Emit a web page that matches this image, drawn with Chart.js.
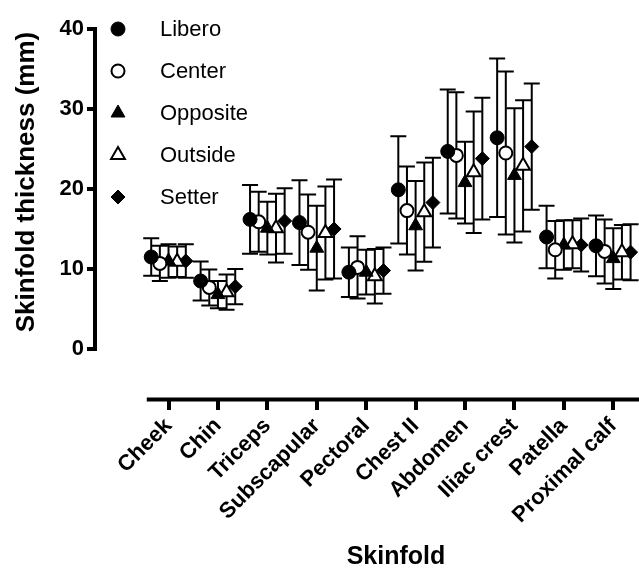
<!DOCTYPE html>
<html lang="en">
<head>
<meta charset="UTF-8">
<title>Skinfold thickness by playing position</title>
<script src="https://cdn.jsdelivr.net/npm/chart.js"></script>
<style>
  html, body { margin: 0; padding: 0; background: #fff; overflow: hidden; }
  #wrap { width: 639px; height: 570px; }
</style>
</head>
<body>
<div id="wrap">
  <canvas id="SkinfoldChart" width="639" height="570"></canvas>
</div>
<script>
// categories and tick labels
const categories = ['Cheek', 'Chin', 'Triceps', 'Subscapular', 'Pectoral', 'Chest II', 'Abdomen', 'Iliac crest', 'Patella', 'Proximal calf'];
const yTicks = [0, 10, 20, 30, 40];

// mean skinfold thickness (mm) per position
const liberoMean   = [11.5, 8.5, 16.2, 15.8, 9.6, 19.9, 24.7, 26.4, 14.0, 12.9];
const centerMean   = [10.7, 7.7, 15.9, 14.6, 10.2, 17.3, 24.2, 24.5, 12.4, 12.2];
const oppositeMean = [11.0, 6.8, 15.1, 12.6, 9.6, 15.4, 20.8, 21.7, 13.0, 11.3];
const outsideMean  = [10.9, 7.1, 15.1, 14.5, 9.1, 17.1, 22.1, 22.9, 13.1, 12.1];
const setterMean   = [11.0, 7.8, 16.0, 15.0, 9.8, 18.3, 23.8, 25.3, 13.0, 12.1];

// standard deviations (error bars)
const liberoSD   = [2.35, 2.45, 4.3, 5.3, 3.1, 6.7, 7.75, 9.9, 3.9, 3.8];
const centerSD   = [2.2, 2.25, 3.75, 4.7, 3.9, 5.5, 7.9, 10.2, 3.6, 4.0];
const oppositeSD = [2.1, 1.7, 3.3, 5.3, 2.8, 5.6, 5.1, 8.4, 3.1, 3.8];
const outsideSD  = [1.9, 2.2, 4.3, 5.8, 3.4, 6.2, 7.6, 8.2, 3.0, 3.4];
const setterSD   = [2.1, 2.2, 4.1, 6.2, 2.9, 5.6, 7.6, 7.9, 3.3, 3.5];

const FONT = "'Liberation Sans', Arial, Helvetica, sans-serif";
Chart.defaults.font.family = FONT;
Chart.defaults.color = '#000';

// horizontal spread of the five positions around each category
function makePoints(means, shift) {
    return means.map((m, i) => ({ x: i + shift, y: m }));
}

function series(label, means, sd, shift, style, filled, radius) {
    return {
        label: label,
        data: makePoints(means, shift),
        sd: sd,
        pointStyle: style,
        pointRadius: radius,
        pointBackgroundColor: filled ? '#000' : '#fff',
        pointBorderColor: '#000',
        pointBorderWidth: filled ? 1 : 2,
        showLine: false,
        clip: false
    };
}

const datasets = [
    series('Libero',   liberoMean,   liberoSD,   -0.35,  'circle',   true,  7),
    series('Center',   centerMean,   centerSD,   -0.175, 'circle',   false, 6.5),
    series('Opposite', oppositeMean, oppositeSD,  0,     'triangle', true,  8),
    series('Outside',  outsideMean,  outsideSD,   0.175, 'triangle', false, 8),
    series('Setter',   setterMean,   setterSD,    0.35,  'rectRot',  true,  7)
];

// error bars behind the symbols
const errorBars = {
    id: 'errorBars',
    beforeDatasetsDraw(chart) {
        const ctx = chart.ctx;
        const y = chart.scales.y;
        ctx.save();
        ctx.strokeStyle = '#000';
        ctx.lineWidth = 2;
        chart.data.datasets.forEach((ds, i) => {
            const meta = chart.getDatasetMeta(i);
            meta.data.forEach((pt, j) => {
                const top = y.getPixelForValue(ds.data[j].y + ds.sd[j]);
                const bot = y.getPixelForValue(ds.data[j].y - ds.sd[j]);
                ctx.beginPath();
                ctx.moveTo(pt.x, top);
                ctx.lineTo(pt.x, bot);
                ctx.moveTo(pt.x - 8, top);
                ctx.lineTo(pt.x + 8, top);
                ctx.moveTo(pt.x - 8, bot);
                ctx.lineTo(pt.x + 8, bot);
                ctx.stroke();
            });
        });
        ctx.restore();
    }
};

// Prism-style detached axis lines and axis titles
const axisLines = {
    id: 'axisLines',
    afterDraw(chart) {
        const ctx = chart.ctx;
        const xs = chart.scales.x, ys = chart.scales.y;
        ctx.save();
        ctx.strokeStyle = '#000';
        ctx.lineWidth = 4;
        ctx.beginPath();
        const ax = chart.chartArea.left - 2;
        ctx.moveTo(ax, ys.getPixelForValue(0) + 2);
        ctx.lineTo(ax, ys.getPixelForValue(40) - 2);
        const ay = chart.chartArea.bottom + 1.5;
        ctx.moveTo(xs.getPixelForValue(-0.44), ay);
        ctx.lineTo(chart.width + 2, ay);
        ctx.stroke();

        ctx.fillStyle = '#000';
        ctx.textAlign = 'center';
        ctx.textBaseline = 'middle';
        ctx.font = 'bold 25px ' + FONT;
        ctx.fillText('Skinfold', 396, 557);
        ctx.translate(27, (ys.getPixelForValue(0) + ys.getPixelForValue(40)) / 2 - 7);
        ctx.rotate(-Math.PI / 2);
        ctx.font = 'bold 26px ' + FONT;
        ctx.fillText('Skinfold thickness (mm)', 0, 0);
        ctx.restore();
    }
};

// legend in the upper left of the plot
const symbolLegend = {
    id: 'symbolLegend',
    afterDatasetsDraw(chart) {
        const ctx = chart.ctx;
        ctx.save();
        chart.data.datasets.forEach((ds, i) => {
            const cy = 29 + i * 42;
            ctx.fillStyle = ds.pointBackgroundColor;
            ctx.strokeStyle = '#000';
            ctx.lineWidth = ds.pointBorderWidth;
            Chart.helpers.drawPoint(ctx, {
                pointStyle: ds.pointStyle,
                radius: ds.pointRadius,
                rotation: 0,
                borderWidth: ds.pointBorderWidth
            }, 118, cy);
            ctx.fillStyle = '#000';
            ctx.font = '22px ' + FONT;
            ctx.textAlign = 'left';
            ctx.textBaseline = 'middle';
            ctx.fillText(ds.label, 160, cy + 1);
        });
        ctx.restore();
    }
};

const ctx = document.getElementById('SkinfoldChart').getContext('2d');
new Chart(ctx, {
    type: 'scatter',
    data: { datasets: datasets },
    plugins: [errorBars, axisLines, symbolLegend],
    options: {
        responsive: false,
        animation: false,
        events: [],
        layout: { padding: { top: 29, left: 0, right: 0, bottom: 0 } },
        plugins: { legend: { display: false }, tooltip: { enabled: false } },
        scales: {
            x: {
                type: 'linear',
                min: -1.447,
                max: 9.318,
                afterBuildTicks: s => { s.ticks = categories.map((c, i) => ({ value: i })); },
                afterFit: s => { s.height = 172; },
                ticks: {
                    callback: v => categories[v],
                    autoSkip: false,
                    minRotation: 45,
                    maxRotation: 45,
                    padding: 3,
                    color: '#000',
                    font: { size: 22, weight: 'bold' }
                },
                grid: { display: true, drawOnChartArea: false, drawTicks: true, tickLength: 12, lineWidth: 4, color: '#000' },
                border: { display: false }
            },
            y: {
                type: 'linear',
                min: -6.125,
                max: 40,
                afterBuildTicks: s => { s.ticks = yTicks.map(v => ({ value: v })); },
                afterFit: s => { s.width = 97; },
                ticks: {
                    padding: 3,
                    color: '#000',
                    font: { size: 22, weight: 'bold' }
                },
                grid: { display: true, drawOnChartArea: false, drawTicks: true, tickLength: 10, lineWidth: 4, color: '#000' },
                border: { display: false }
            }
        }
    }
});
</script>
</body>
</html>
